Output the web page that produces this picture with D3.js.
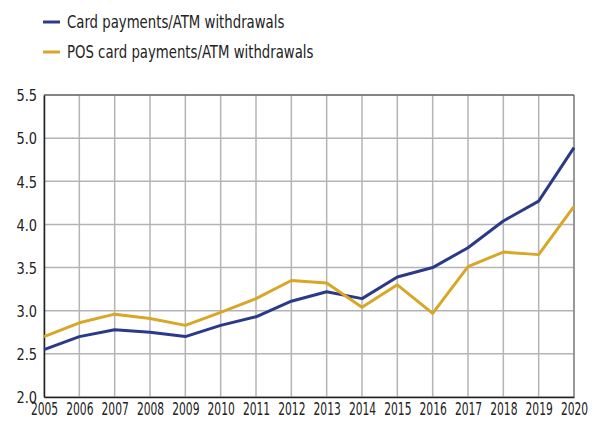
<!DOCTYPE html>
<html>
<head>
<meta charset="utf-8">
<script src="https://cdn.jsdelivr.net/npm/d3@7"></script>
<style>
  body { margin: 0; background: #fff; }
  text { font-family: "DejaVu Sans Condensed", "DejaVu Sans", sans-serif; fill: #222; }
</style>
</head>
<body>
<div id="chart"></div>
<script>
const years = [2005, 2006, 2007, 2008, 2009, 2010, 2011, 2012, 2013, 2014, 2015, 2016, 2017, 2018, 2019, 2020]
const cardAtm = [2.55, 2.70, 2.78, 2.75, 2.70, 2.83, 2.93, 3.11, 3.22, 3.14, 3.39, 3.50, 3.73, 4.04, 4.27, 4.89]
const posAtm = [2.70, 2.86, 2.96, 2.91, 2.83, 2.98, 3.14, 3.35, 3.32, 3.04, 3.30, 2.97, 3.51, 3.68, 3.65, 4.21]
const yTicks = [2.0, 2.5, 3.0, 3.5, 4.0, 4.5, 5.0, 5.5]
const seriesNames = ['Card payments/ATM withdrawals', 'POS card payments/ATM withdrawals']
const colors = ['#2b3a88', '#d9a728']

const MARGIN = {TOP: 95, BOTTOM: 27, LEFT: 44, RIGHT: 24}
const W = 598, H = 424
const WIDTH = W - MARGIN.LEFT - MARGIN.RIGHT
const HEIGHT = H - MARGIN.TOP - MARGIN.BOTTOM

// squeeze text horizontally, the source font is narrower than anything installed
function squeeze(sel, k) {
    sel.each(function () {
        const w = this.getComputedTextLength()
        d3.select(this).attr('textLength', w * k).attr('lengthAdjust', 'spacingAndGlyphs')
    })
}

const svg = d3.select('#chart').append('svg')
    .attr('width', W)
    .attr('height', H)

const g = svg.append('g')
    .attr('transform', `translate(${MARGIN.LEFT}, ${MARGIN.TOP})`)

const x = d3.scaleLinear().domain([2005, 2020]).range([0, WIDTH])
const y = d3.scaleLinear().domain([2.0, 5.5]).range([HEIGHT, 0])

// grid
g.append('g').selectAll('line')
    .data(yTicks)
    .join('line')
    .attr('x1', 0).attr('x2', WIDTH)
    .attr('y1', d => y(d)).attr('y2', d => y(d))
    .attr('stroke', '#b4b4b4').attr('stroke-width', 1.5)

g.append('g').selectAll('line')
    .data(years)
    .join('line')
    .attr('x1', d => x(d)).attr('x2', d => x(d))
    .attr('y1', 0).attr('y2', HEIGHT)
    .attr('stroke', '#b4b4b4').attr('stroke-width', 1.5)

// frame
g.append('line').attr('x1', WIDTH).attr('x2', WIDTH).attr('y1', 0).attr('y2', HEIGHT)
    .attr('stroke', '#888').attr('stroke-width', 1.5)
g.append('line').attr('x1', 0).attr('x2', WIDTH).attr('y1', 0).attr('y2', 0)
    .attr('stroke', '#444').attr('stroke-width', 1.2)

// axes
const yAxis = g.append('g').call(d3.axisLeft(y).tickValues(yTicks).tickFormat(d3.format('.1f')).tickSize(0).tickPadding(7))
const xAxis = g.append('g').attr('transform', `translate(0, ${HEIGHT})`)
    .call(d3.axisBottom(x).tickValues(years).tickFormat(d3.format('d')).tickSize(0).tickPadding(6))
;[yAxis, xAxis].forEach(a => {
    a.select('.domain').attr('stroke', '#222').attr('stroke-width', 1.5)
    a.selectAll('text').attr('font-size', 16).attr('fill', '#222')
        .attr('font-family', '"DejaVu Sans Condensed", sans-serif')
})
yAxis.selectAll('text').attr('dy', '0.36em')
xAxis.selectAll('text').attr('font-size', 17)
squeeze(yAxis.selectAll('text'), 0.9)
squeeze(xAxis.selectAll('text'), 0.70)

// lines
const line = d3.line().x((d, i) => x(years[i])).y(d => y(d))
;[cardAtm, posAtm].forEach((s, i) => {
    g.append('path')
        .datum(s)
        .attr('fill', 'none')
        .attr('stroke', colors[i])
        .attr('stroke-width', 3)
        .attr('stroke-linejoin', 'round')
        .attr('d', line)
})

// legend
const legend = svg.append('g').selectAll('g')
    .data(seriesNames)
    .join('g')
    .attr('transform', (d, i) => `translate(43, ${22 + i * 30})`)
legend.append('line').attr('x1', 0).attr('x2', 17)
    .attr('stroke', (d, i) => colors[i]).attr('stroke-width', 3)
legend.append('text').attr('x', 24).attr('dy', '0.36em')
    .attr('font-size', 18)
    .text(d => d)
squeeze(legend.selectAll('text'), 0.82)
</script>
</body>
</html>
